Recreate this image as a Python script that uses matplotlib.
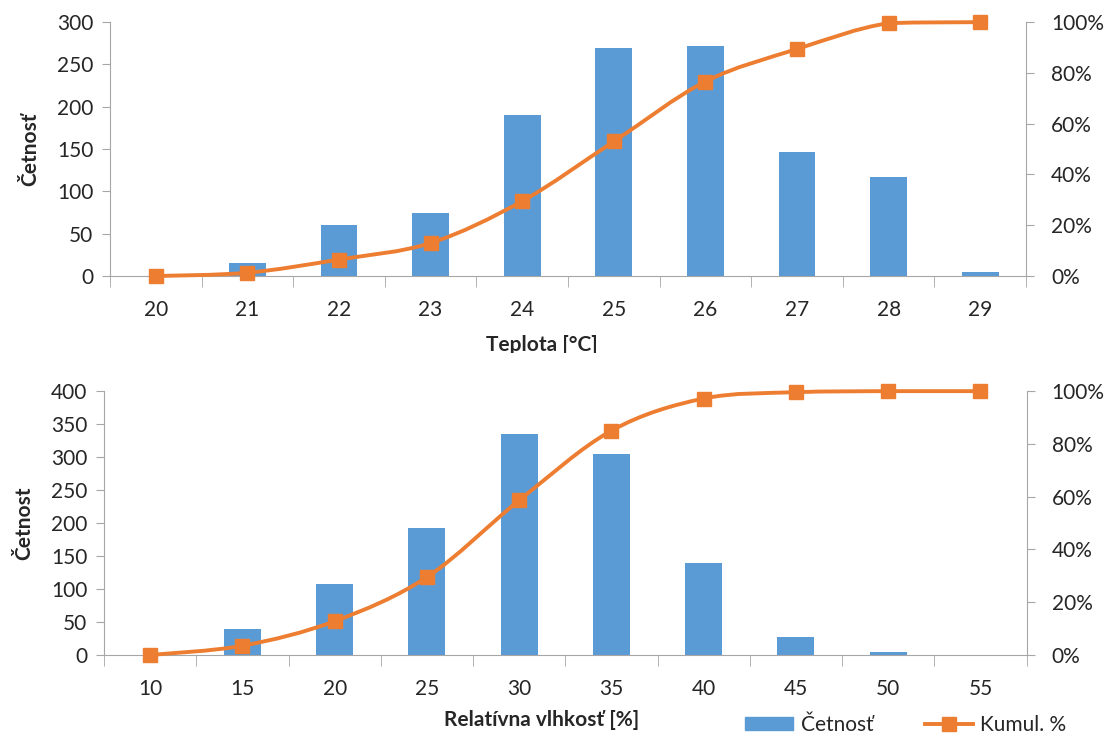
import numpy as np
import matplotlib.pyplot as plt
from matplotlib.path import Path
from matplotlib.patches import PathPatch
from matplotlib.lines import Line2D
from matplotlib.transforms import Bbox

plt.rcParams["font.family"] = ["Lato", "DejaVu Sans"]

# top chart: temperature
temp_labels = ["20", "21", "22", "23", "24", "25", "26", "27", "28", "29"]
temp_counts = [0, 15, 60, 75, 190, 270, 272, 147, 117, 5]
temp_cum = [0.0, 1.3, 6.5, 13.0, 29.5, 53.0, 76.6, 89.4, 99.6, 100.0]

# bottom chart: relative humidity
hum_labels = ["10", "15", "20", "25", "30", "35", "40", "45", "50", "55"]
hum_counts = [0, 40, 107, 193, 335, 305, 140, 27, 5, 0]
hum_cum = [0.0, 3.5, 12.8, 29.5, 58.6, 85.0, 97.2, 99.6, 100.0, 100.0]

BLUE = "#5B9BD5"
ORANGE = "#ED7D31"
GRAY = "#A6A6A6"
TXT = "#262626"
FS = 15


def smooth_path(x, y):
    # bezier segments through the points (smoothed line), no overshoot
    x = np.asarray(x, float)
    y = np.asarray(y, float)
    verts = [(x[0], y[0])]
    codes = [Path.MOVETO]
    n = len(x)
    for i in range(n - 1):
        x0, y0 = (x[i - 1], y[i - 1]) if i > 0 else (x[i], y[i])
        x3, y3 = (x[i + 2], y[i + 2]) if i + 2 < n else (x[i + 1], y[i + 1])
        lo, hi = min(y[i], y[i + 1]), max(y[i], y[i + 1])
        c1y = np.clip(y[i] + (y[i + 1] - y0) / 6, lo, hi)
        c2y = np.clip(y[i + 1] - (y3 - y[i]) / 6, lo, hi)
        c1 = (x[i] + (x[i + 1] - x0) / 6, c1y)
        c2 = (x[i + 1] - (x3 - x[i]) / 6, c2y)
        verts += [c1, c2, (x[i + 1], y[i + 1])]
        codes += [Path.CURVE4] * 3
    return Path(verts, codes)


def draw(ax, labels, counts, cum, ymax, ylabel):
    pos = np.arange(len(labels))
    ax.bar(pos, counts, width=0.4, color=BLUE, zorder=2)
    ax.set_xlim(-0.5, len(labels) - 0.5)
    ax.set_ylim(0, ymax)
    ax.set_yticks(np.arange(0, ymax + 1, 50))
    ax.set_xticks(pos)
    ax.set_xticklabels(labels)
    ax.set_xticks(np.arange(-0.5, len(labels), 1.0), minor=True)
    ax.tick_params(axis="x", which="major", length=0, pad=17, labelsize=FS, labelcolor=TXT)
    ax.tick_params(axis="x", which="minor", length=8, color=GRAY, direction="out")
    ax.tick_params(axis="y", length=6, color=GRAY, labelsize=FS, labelcolor=TXT, pad=6)
    for s in ["top", "right"]:
        ax.spines[s].set_visible(False)
    ax.spines["left"].set_color(GRAY)
    ax.spines["bottom"].set_color(GRAY)
    ax.set_ylabel(ylabel, fontsize=FS, fontweight="bold", color=TXT, labelpad=12)

    ax2 = ax.twinx()
    ax2.set_ylim(0, 100)
    ax2.set_yticks(np.arange(0, 101, 20))
    ax2.set_yticklabels([f"{v}%" for v in range(0, 101, 20)])
    ax2.tick_params(axis="y", length=6, color=GRAY, labelsize=FS, labelcolor=TXT, pad=12)
    for s in ["top", "left", "bottom"]:
        ax2.spines[s].set_visible(False)
    ax2.spines["right"].set_color(GRAY)
    ax2.add_patch(PathPatch(smooth_path(pos, cum), fill=False, edgecolor=ORANGE,
                            lw=2.8, zorder=3, clip_on=False))
    ax2.plot(pos, cum, ls="none", marker="s", ms=10, color=ORANGE, zorder=4, clip_on=False)
    return ax2


fig = plt.figure(figsize=(11.11, 7.38), dpi=100)
ax_t = fig.add_axes([0.099, 0.626, 0.8245, 0.344])
ax_b = fig.add_axes([0.0936, 0.1125, 0.8304, 0.3575])

draw(ax_t, temp_labels, temp_counts, temp_cum, 300, "Četnosť")
draw(ax_b, hum_labels, hum_counts, hum_cum, 400, "Četnost")

# x-axis titles
t = fig.text(542 / 1111, 1 - 345 / 738, "Teplota [°C]", ha="center", va="center",
             fontsize=FS, fontweight="bold", color=TXT)
t.set_clip_box(Bbox.from_extents(0, 738 - 353, 1111, 738))
t.set_clip_on(True)
fig.text(542 / 1111, 1 - 720 / 738, "Relatívna vlhkosť [%]", ha="center", va="center",
         fontsize=FS, fontweight="bold", color=TXT)

handles = [
    plt.Rectangle((0, 0), 1, 1, color=BLUE),
    Line2D([], [], color=ORANGE, lw=2.8, marker="s", ms=10),
]
fig.legend(handles, ["Četnosť", "Kumul. %"], loc="center", bbox_to_anchor=(906 / 1111, 1 - 725 / 738),
           ncol=2, frameon=False, fontsize=FS, handlelength=2.3, handleheight=0.6,
           columnspacing=2.5, handletextpad=0.35, labelcolor=TXT)

fig.savefig("out.png", dpi=100)
